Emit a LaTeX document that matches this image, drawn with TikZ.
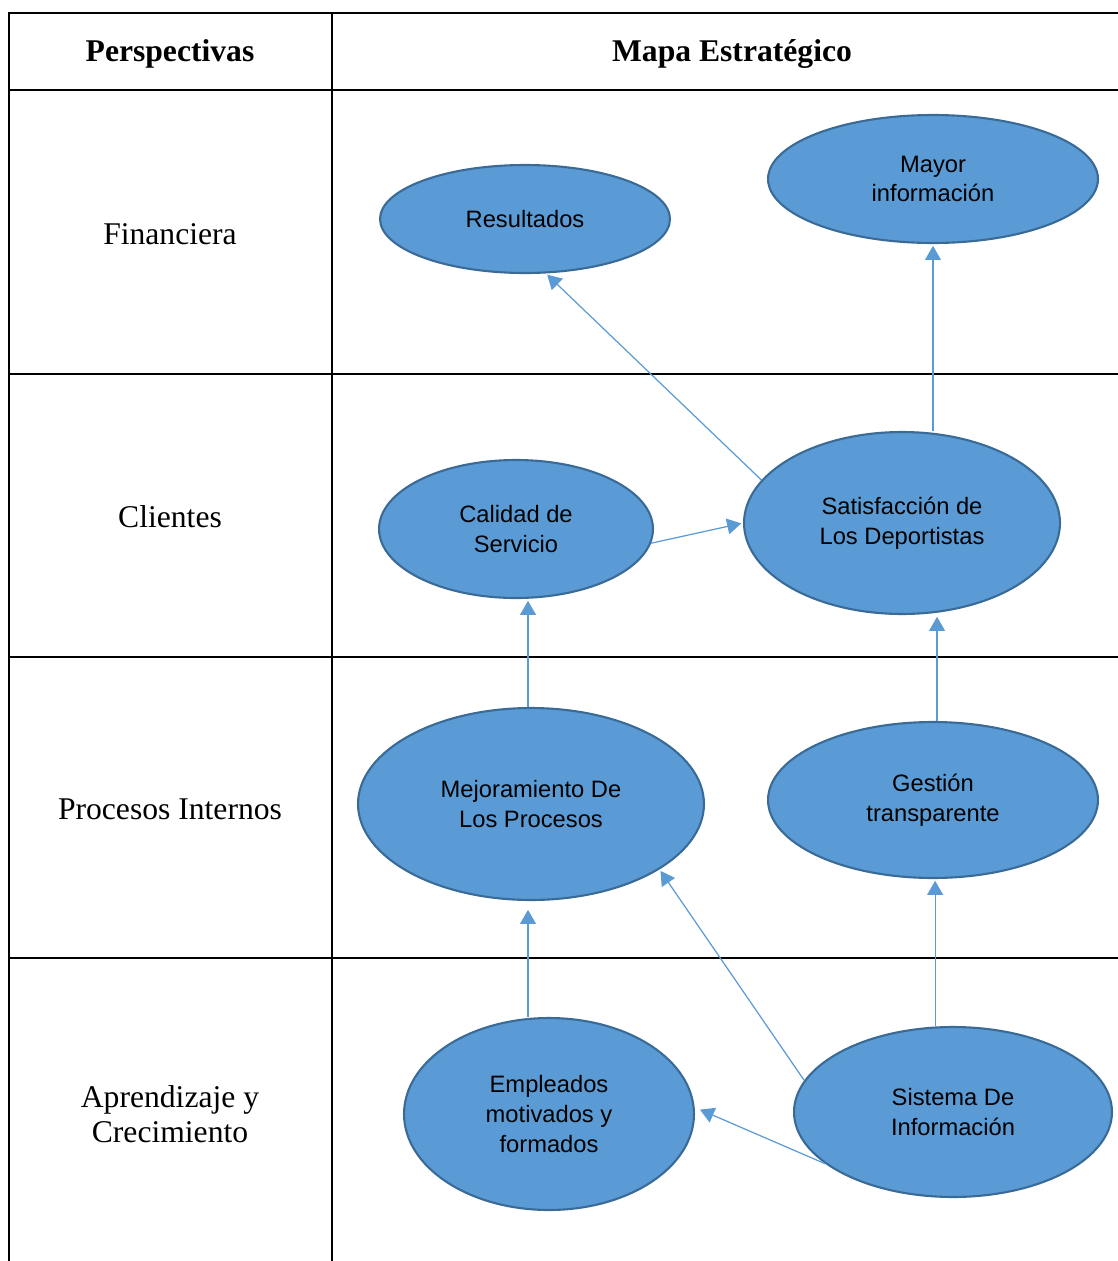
\documentclass[tikz,border=0pt]{standalone}
\usepackage{fontspec}
\setmainfont{Liberation Serif}
\newfontfamily\arialfont{Liberation Sans}
\usetikzlibrary{arrows.meta, shapes.geometric}
\colorlet{gridline}{black}
\definecolor{goalfill}{HTML}{5B9BD5}
\definecolor{goaledge}{HTML}{3A6A96}
\definecolor{linkcol}{HTML}{5B9BD5}
\tikzset{
  goal/.style={ellipse, draw=goaledge, fill=goalfill, line width=1.2pt,
    inner sep=0pt, align=center, font=\arialfont\fontsize{13.5}{17}\selectfont},
  link/.style={-{Triangle[length=8pt, width=9pt]}, linkcol, line width=0.7pt, shorten >=1pt},
  rowlabel/.style={align=center, font=\fontsize{18}{20}\selectfont},
  headlabel/.style={font=\bfseries\fontsize{18}{20}\selectfont}
}

\begin{document}
\begin{tikzpicture}[x=0.02cm, y=-0.02cm]
\useasboundingbox (0,0) rectangle (1118,1261);

% Table
\draw[gridline, line width=1.1pt] (9,1261) -- (9,13) -- (1118,13);
\draw[gridline, line width=1.1pt] (332,13) -- (332,1261);
\foreach \y in {90,374,657,958}
  \draw[gridline, line width=1.1pt] (9,\y) -- (1118,\y);

% Headers
\node[headlabel] (hpersp) at (170,54) {Perspectivas};
\node[headlabel] (hmapa) at (732,54) {Mapa Estratégico};

% Perspectives
\node[rowlabel] (fin) at (170,234) {Financiera};
\node[rowlabel] (cli) at (170,517) {Clientes};
\node[rowlabel] (pro) at (170,809) {Procesos Internos};
\node[rowlabel] (apr) at (170,1114) {Aprendizaje y\\Crecimiento};

% Objectives
\node[goal, minimum width=5.8cm, minimum height=2.16cm] (res) at (525,219) {Resultados};
\node[goal, minimum width=6.6cm, minimum height=2.56cm] (may) at (933,179) {Mayor\\información};
\node[goal, minimum width=5.48cm, minimum height=2.76cm] (cal) at (516,529) {Calidad de\\Servicio};
\node[goal, minimum width=6.32cm, minimum height=3.64cm] (sat) at (902,523) {Satisfacción de\\Los Deportistas};
\node[goal, minimum width=6.92cm, minimum height=3.84cm] (mej) at (531,804) {Mejoramiento De\\Los Procesos};
\node[goal, minimum width=6.6cm, minimum height=3.12cm] (ges) at (933,800) {Gestión\\transparente};
\node[goal, minimum width=5.8cm, minimum height=3.84cm] (emp) at (549,1114) {Empleados\\motivados y\\formados};
\node[goal, minimum width=6.36cm, minimum height=3.4cm] (sis) at (953,1112) {Sistema De\\Información};

% Links
\draw[link] (sat.163) -- (res.291);
\draw[link] (may.south |- sat.north) -- (may.south);
\draw[link] (cal.354) -- (sat.west);
\draw[link] ([xshift=-1.7pt]mej.north) -- ([xshift=-1.7pt]mej.north |- cal.south);
\draw[link] ([xshift=2.3pt]ges.north) -- ([xshift=2.3pt]ges.north |- sat.south);
\draw[link] ([xshift=-1.7pt]mej.south |- emp.north) -- ([xshift=-1.7pt,yshift=-4pt]mej.south);
\draw[link] (sis.168) -- (mej.333);
\draw[link] ([xshift=1.2pt]ges.south |- sis.north) -- ([xshift=1.2pt]ges.south);
\draw[link] (sis.202) -- ([xshift=2pt]emp.2);

\end{tikzpicture}
\end{document}
